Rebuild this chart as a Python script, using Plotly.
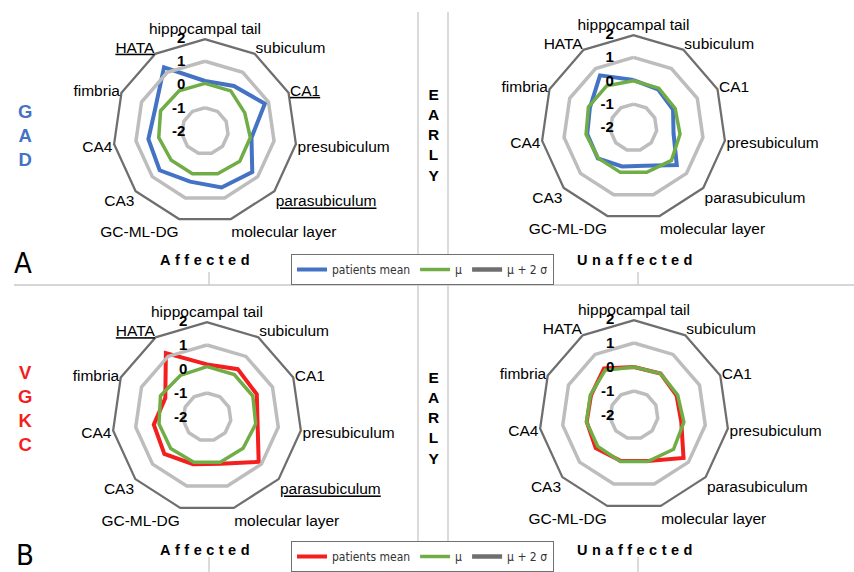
import plotly.graph_objects as go

W, H = 854, 572

categories = ["hippocampal tail", "subiculum", "CA1", "presubiculum", "parasubiculum",
              "molecular layer", "GC-ML-DG", "CA3", "CA4", "fimbria", "HATA"]
underlined_A = ["HATA", "CA1", "parasubiculum"]
underlined_B = ["HATA", "parasubiculum"]

gad_affected_mean = [0.15, 0.30, 0.83, 0.02, 0.69, 0.53, 0.27, 0.58, 0.46, 0.35, 1.26]
gad_affected_mu = [0.05, 0.05, -0.12, -0.03, -0.02, -0.08, -0.08, -0.08, 0.01, 0.10, 0.06]
gad_unaffected_mean = [0.03, -0.06, -0.14, -0.27, 0.45, -0.29, -0.26, 0.02, 0.00, 0.05, 0.65]
gad_unaffected_mu = [0.00, 0.00, -0.04, 0.01, 0.15, 0.00, 0.00, 0.00, 0.05, 0.12, 0.12]
vgkc_affected_mean = [0.19, 0.37, 0.28, 0.13, 0.85, 0.03, 0.05, 0.35, 0.24, -0.09, 1.17]
vgkc_affected_mu = [0.10, 0.10, 0.10, 0.05, -0.01, -0.04, -0.04, 0.00, 0.02, 0.13, 0.06]
vgkc_unaffected_mean = [0.00, 0.05, -0.05, -0.01, 0.73, 0.00, -0.01, 0.11, -0.01, -0.03, 0.31]
vgkc_unaffected_mu = [0.00, 0.05, 0.00, 0.10, 0.18, 0.02, 0.02, 0.00, 0.00, 0.00, 0.22]
mu_plus_2sigma = [2, 2, 2, 2, 2, 2, 2, 2, 2, 2, 2]
mu_plus_sigma = [1, 1, 1, 1, 1, 1, 1, 1, 1, 1, 1]
mu_minus_sigma = [-1, -1, -1, -1, -1, -1, -1, -1, -1, -1, -1]

radial_tickvals = [-2, -1, 0, 1, 2]
radial_ticktext = ["-2", "-1", "0", "1", "2"]

BLUE = "#4472C4"
RED = "#F41E1E"
GREEN = "#70AD47"
DGREY = "#6E6E6E"
LGREY = "#BDBDBD"
FONT = "Liberation Sans, Arial, sans-serif"
NARROW = "Liberation Sans Narrow, Arial Narrow, DejaVu Sans Condensed, Liberation Sans, sans-serif"


def closed(v):
    return list(v) + [v[0]]


theta = closed(categories)

fig = go.Figure()

panels = [
    ("polar", gad_affected_mean, gad_affected_mu, BLUE, "legend", True),
    ("polar2", gad_unaffected_mean, gad_unaffected_mu, BLUE, "legend", False),
    ("polar3", vgkc_affected_mean, vgkc_affected_mu, RED, "legend2", True),
    ("polar4", vgkc_unaffected_mean, vgkc_unaffected_mu, RED, "legend2", False),
]

for sp, mean, mu, col, lg, show in panels:
    fig.add_trace(go.Scatterpolar(r=closed(mean), theta=theta, mode="lines", subplot=sp,
                                  line=dict(color=col, width=4), name="patients mean",
                                  legend=lg, showlegend=show, cliponaxis=False))
    fig.add_trace(go.Scatterpolar(r=closed(mu), theta=theta, mode="lines", subplot=sp,
                                  line=dict(color=GREEN, width=3.5), name="μ",
                                  legend=lg, showlegend=show, cliponaxis=False))
    fig.add_trace(go.Scatterpolar(r=closed(mu_plus_2sigma), theta=theta, mode="lines", subplot=sp,
                                  line=dict(color=DGREY, width=4.5), name="μ + 2 σ",
                                  legend=lg, showlegend=show, cliponaxis=False))
    for ring in (mu_plus_sigma, mu_minus_sigma):
        fig.add_trace(go.Scatterpolar(r=closed(ring), theta=theta, mode="lines", subplot=sp,
                                      line=dict(color=LGREY, width=3.5), showlegend=False,
                                      hoverinfo="skip", cliponaxis=False))


def polar_layout(cx, cy, R, underlined):
    ticktext = [("<u>%s</u>" % c) if c in underlined else c for c in categories]
    return dict(
        domain=dict(x=[(cx - R) / W, (cx + R) / W], y=[1 - (cy + R) / H, 1 - (cy - R) / H]),
        gridshape="linear",
        bgcolor="rgba(0,0,0,0)",
        radialaxis=dict(range=[-2, 2], tickmode="array", tickvals=radial_tickvals,
                        ticktext=radial_ticktext, showgrid=False, showline=False, angle=90,
                        side="counterclockwise", tickangle=90, ticks="outside", ticklen=14,
                        tickcolor="rgba(0,0,0,0)",
                        tickfont=dict(family=FONT, size=15, color="black", weight="bold")),
        angularaxis=dict(type="category", categoryarray=categories, rotation=90,
                         direction="clockwise", showgrid=False, showline=False, ticks="",
                         tickmode="array", tickvals=categories, ticktext=ticktext,
                         tickfont=dict(family=FONT, size=15.5, color="black")),
    )


legend_common = dict(orientation="h", xanchor="left", yanchor="top", bgcolor="white",
                     bordercolor="#707070", borderwidth=1, itemwidth=30,
                     font=dict(family=NARROW, size=12, color="#333333"))

fig.update_layout(
    width=W, height=H, margin=dict(l=0, r=0, t=0, b=0),
    paper_bgcolor="white", plot_bgcolor="white",
    polar=polar_layout(205, 131, 93, underlined_A),
    polar2=polar_layout(633.5, 127.5, 93.5, []),
    polar3=polar_layout(207, 417, 96, underlined_B),
    polar4=polar_layout(634, 415, 96, []),
    legend=dict(x=291 / W, y=1 - 254 / H, **legend_common),
    legend2=dict(x=291 / W, y=1 - 541 / H, **legend_common),
)


def px_line(x0, y0, x1, y1, color="#C8C8C8", width=1.3):
    fig.add_shape(type="line", xref="paper", yref="paper", x0=x0 / W, x1=x1 / W,
                  y0=1 - y0 / H, y1=1 - y1 / H, line=dict(color=color, width=width), layer="below")


px_line(14, 285, 854, 285)
px_line(418, 12, 418, 572)
px_line(448, 12, 448, 572)
for x in (209, 638):
    px_line(x, 272, x, 285)
    px_line(x, 557, x, 572)


def ann(text, x, y, size, color="black", family=FONT, bold=False):
    fig.add_annotation(text=text, x=x / W, y=1 - y / H, xref="paper", yref="paper",
                       showarrow=False, xanchor="center", yanchor="middle",
                       font=dict(size=size, color=color, family=family,
                                 weight="bold" if bold else "normal"))


ann("G<br>A<br>D", 25, 135, 18.5, BLUE, bold=True)
ann("V<br>G<br>K<br>C", 25, 408.5, 18.5, RED, bold=True)
ann("E<br>A<br>R<br>L<br>Y", 433, 135, 15.5, bold=True)
ann("E<br>A<br>R<br>L<br>Y", 433, 417.5, 15.5, bold=True)
ann("A", 23, 263, 29, family=NARROW)
ann("B", 25, 555, 29, family=NARROW)
sp = '<span style="letter-spacing:4.5px">%s</span>'
ann(sp % "Affected", 207, 260, 14.5, bold=True)
ann(sp % "Unaffected", 637, 260, 14.5, bold=True)
ann(sp % "Affected", 207, 550, 14.5, bold=True)
ann(sp % "Unaffected", 637, 550, 14.5, bold=True)

fig.write_html("out.html", config={"displayModeBar": False},
               post_script="document.body.style.margin='0';document.body.style.padding='0';"
                           "document.documentElement.style.overflow='hidden';")
